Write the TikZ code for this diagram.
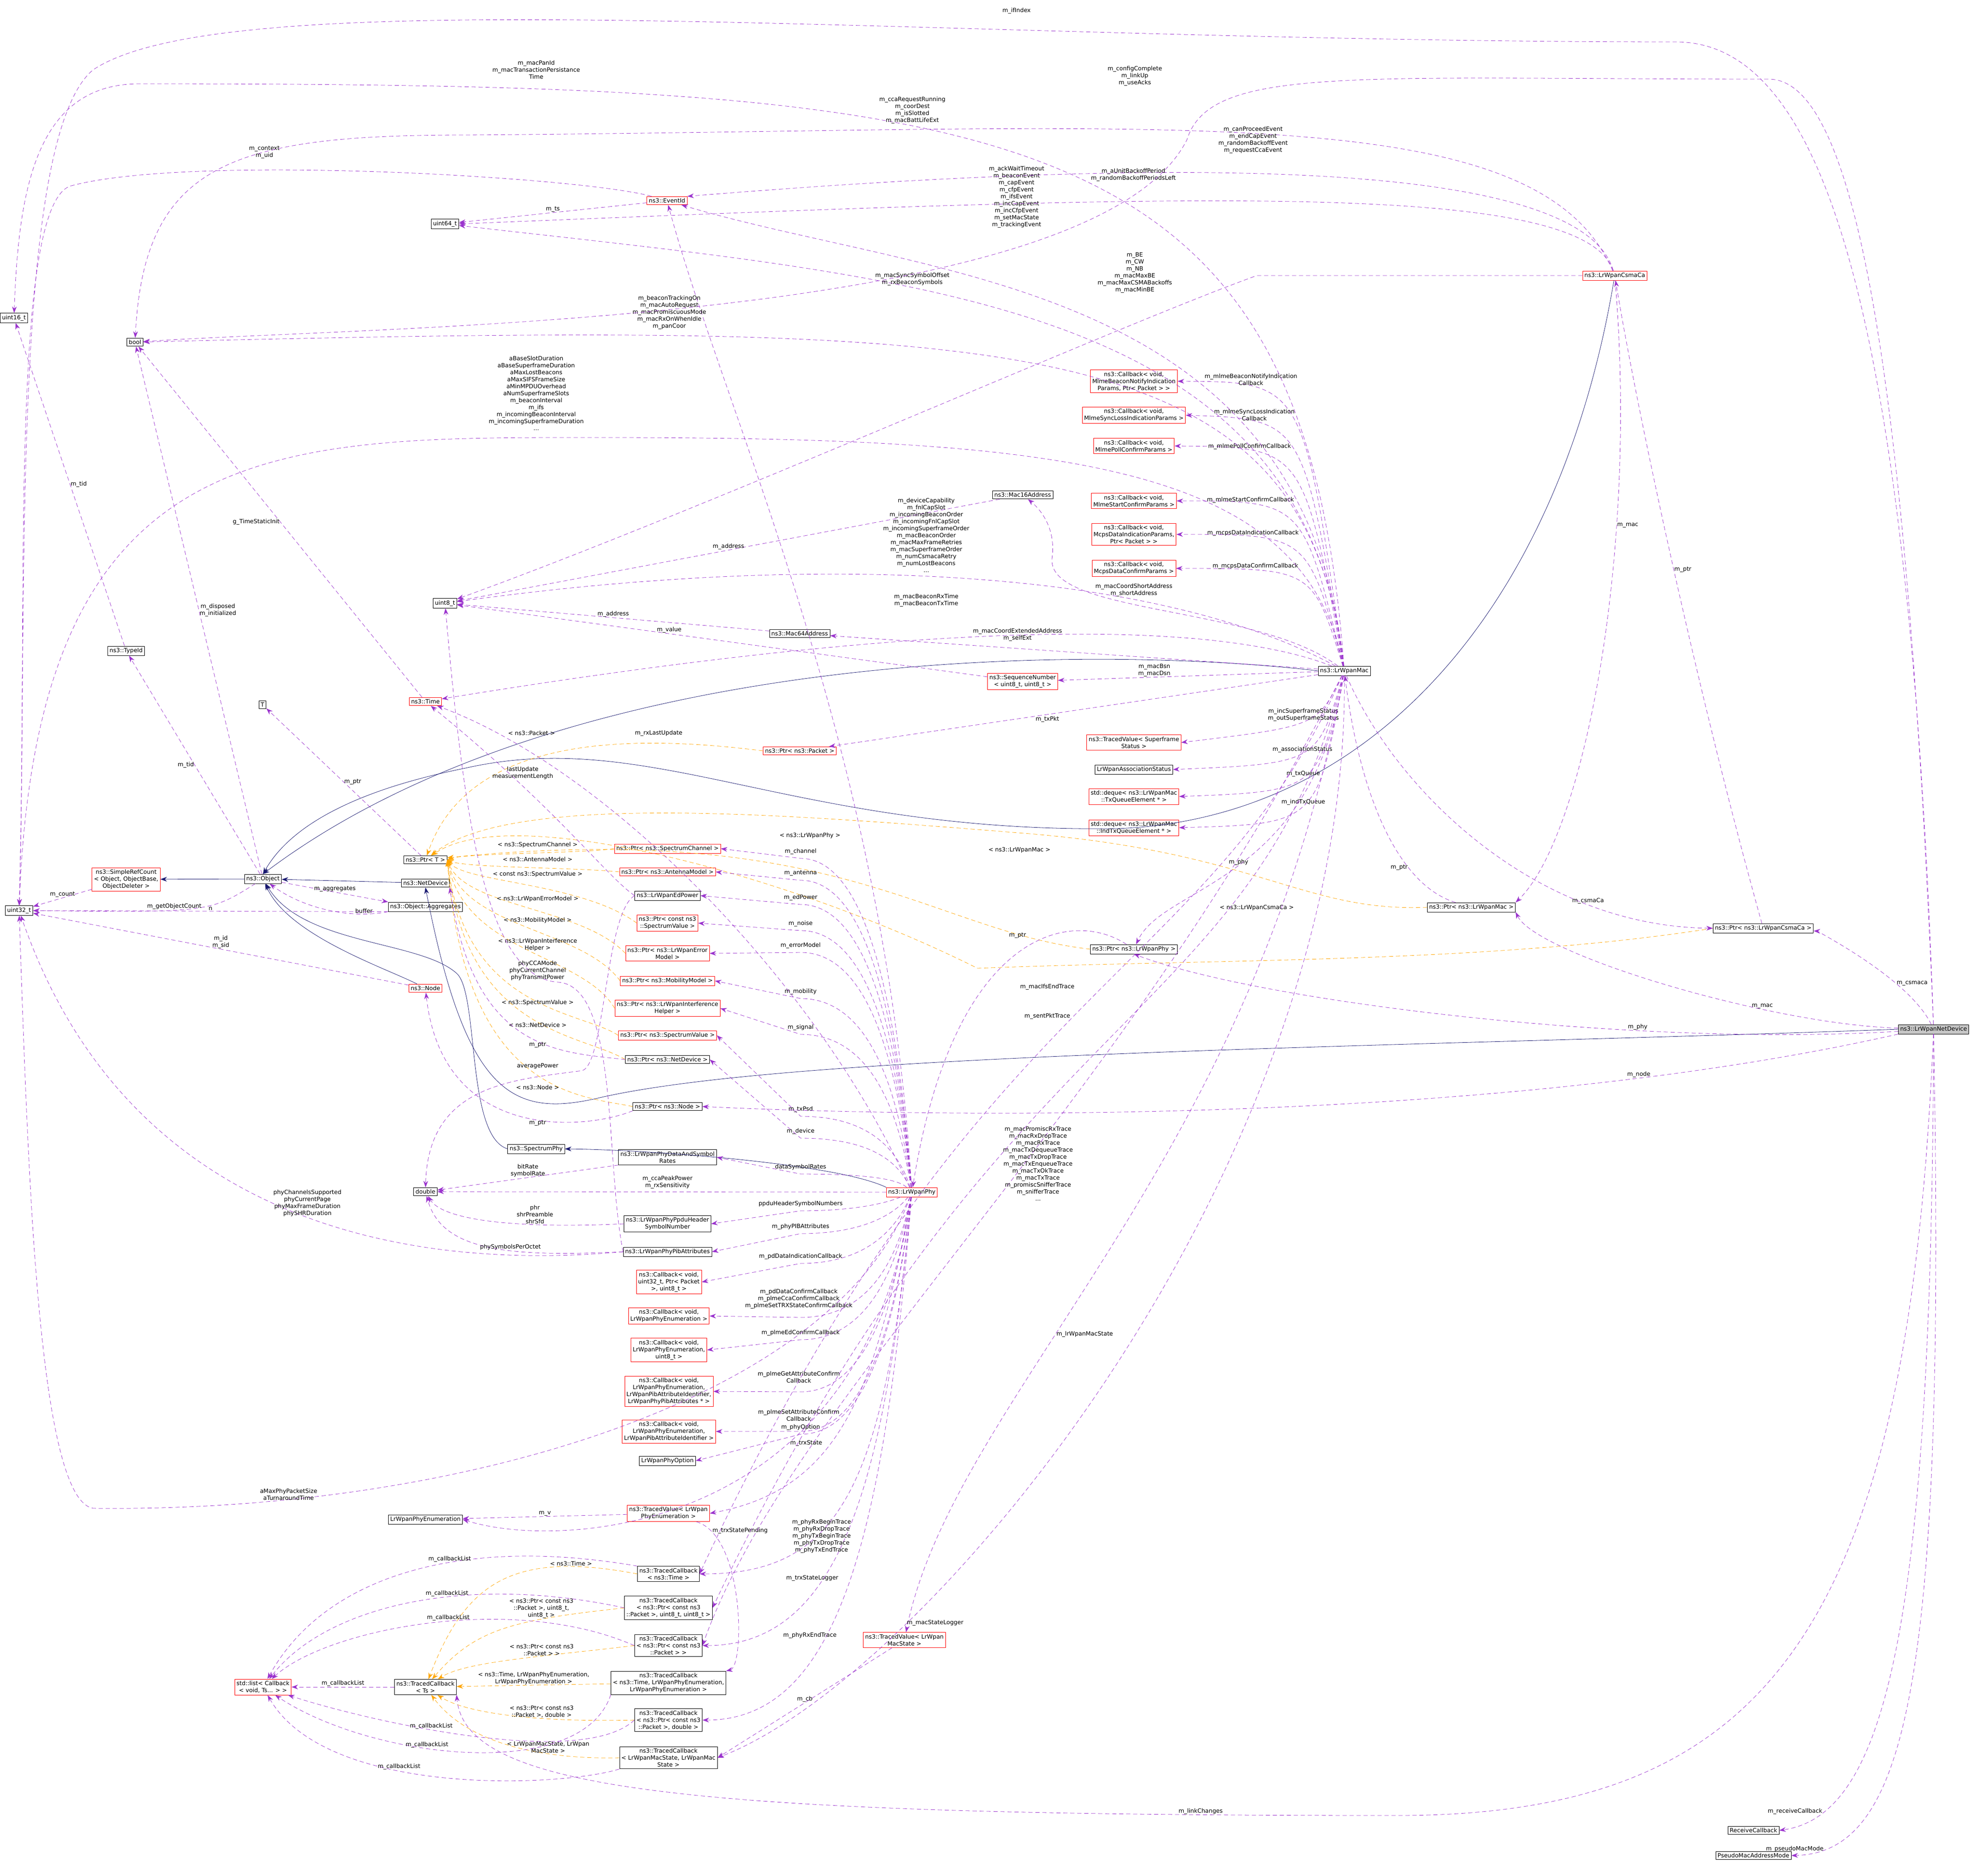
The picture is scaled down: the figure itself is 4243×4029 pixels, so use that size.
\documentclass[tikz,border=0pt]{standalone}
\usepackage{fontspec}
\setmainfont{DejaVu Sans}
\usetikzlibrary{arrows.meta}
\definecolor{dpurple}{HTML}{9A32CD}
\definecolor{dnavy}{HTML}{191970}
\definecolor{dorange}{HTML}{FFA500}
\tikzset{
 box/.style={draw=black,thick,fill=white,rectangle,inner sep=4pt,align=center,font=\fontsize{12.5}{15}\selectfont},
 rbox/.style={box,draw=red},
 gbox/.style={box,fill=gray!45},
 dsh/.style={dash pattern=on 9pt off 6pt},
 mem/.style={draw=dpurple,dsh,thick,-{Stealth[length=14pt,width=10pt]}},
 inh/.style={draw=dnavy,thick,-{Stealth[length=14pt,width=10pt]}},
 tpl/.style={draw=dorange,dsh,thick,-{Stealth[length=14pt,width=10pt]}},
 lb/.style={font=\fontsize{12.5}{15}\selectfont,align=center,inner sep=1pt,text=black}
}
\begin{document}
\begin{tikzpicture}[x=1pt,y=-1pt]
\useasboundingbox (0,0) rectangle (4243,4029);
% ---------- nodes ----------
\node[box] (u16) at (30,683) {uint16\_t};
\node[box] (bool) at (290,735) {bool};
\node[box] (u64) at (956,481) {uint64\_t};
\node[rbox] (ev) at (1433,431) {ns3::EventId};
\node[box] (u8) at (956,1296) {uint8\_t};
\node[box] (tid) at (271,1398) {ns3::TypeId};
\node[box] (T) at (564,1514) {T};
\node[rbox] (time) at (914,1507) {ns3::Time};
\node[box] (ptrT) at (914,1847) {ns3::Ptr< T >};
\node[box] (obj) at (565,1888) {ns3::Object};
\node[rbox] (src) at (271,1889) {ns3::SimpleRefCount\\< Object, ObjectBase,\\ ObjectDeleter >};
\node[box] (u32) at (41,1956) {uint32\_t};
\node[box] (nd) at (914,1897) {ns3::NetDevice};
\node[box] (agg) at (914,1948) {ns3::Object::Aggregates};
\node[rbox] (node) at (914,2123) {ns3::Node};
\node[box] (sphy) at (1152,2468) {ns3::SpectrumPhy};
\node[box] (dbl) at (914,2560) {double};
\node[rbox] (pSC) at (1434,1823) {ns3::Ptr< ns3::SpectrumChannel >};
\node[rbox] (pAM) at (1434,1873) {ns3::Ptr< ns3::AntennaModel >};
\node[box] (edp) at (1434,1924) {ns3::LrWpanEdPower};
\node[rbox] (pCSV) at (1434,1983) {ns3::Ptr< const ns3\\::SpectrumValue >};
\node[rbox] (pEM) at (1434,2048) {ns3::Ptr< ns3::LrWpanError\\Model >};
\node[rbox] (pMM) at (1434,2107) {ns3::Ptr< ns3::MobilityModel >};
\node[rbox] (pIH) at (1434,2166) {ns3::Ptr< ns3::LrWpanInterference\\Helper >};
\node[rbox] (pSV) at (1434,2224) {ns3::Ptr< ns3::SpectrumValue >};
\node[box] (pND) at (1434,2276) {ns3::Ptr< ns3::NetDevice >};
\node[box] (pNode) at (1434,2377) {ns3::Ptr< ns3::Node >};
\node[box] (dsr) at (1434,2486) {ns3::LrWpanPhyDataAndSymbol\\Rates};
\node[box] (ppdu) at (1434,2629) {ns3::LrWpanPhyPpduHeader\\SymbolNumber};
\node[box] (pib) at (1434,2689) {ns3::LrWpanPhyPibAttributes};
\node[rbox] (cb1) at (1437,2754) {ns3::Callback< void,\\uint32\_t, Ptr< Packet\\ >, uint8\_t >};
\node[rbox] (cb2) at (1437,2827) {ns3::Callback< void,\\LrWpanPhyEnumeration >};
\node[rbox] (cb3) at (1437,2900) {ns3::Callback< void,\\LrWpanPhyEnumeration,\\uint8\_t >};
\node[rbox] (cb4) at (1437,2989) {ns3::Callback< void,\\LrWpanPhyEnumeration,\\LrWpanPibAttributeIdentifier,\\LrWpanPhyPibAttributes * >};
\node[rbox] (cb5) at (1437,3075) {ns3::Callback< void,\\LrWpanPhyEnumeration,\\LrWpanPibAttributeIdentifier >};
\node[box] (popt) at (1434,3138) {LrWpanPhyOption};
\node[rbox] (tvpe) at (1436,3251) {ns3::TracedValue< LrWpan\\PhyEnumeration >};
\node[box] (pe) at (914,3264) {LrWpanPhyEnumeration};
\node[box] (tcT) at (1436,3381) {ns3::TracedCallback\\< ns3::Time >};
\node[box] (tcP8) at (1436,3454) {ns3::TracedCallback\\< ns3::Ptr< const ns3\\::Packet >, uint8\_t, uint8\_t >};
\node[box] (tcP) at (1436,3535) {ns3::TracedCallback\\< ns3::Ptr< const ns3\\::Packet > >};
\node[box] (tcTE) at (1436,3615) {ns3::TracedCallback\\< ns3::Time, LrWpanPhyEnumeration,\\LrWpanPhyEnumeration >};
\node[box] (tcPD) at (1436,3695) {ns3::TracedCallback\\< ns3::Ptr< const ns3\\::Packet >, double >};
\node[box] (tcMS) at (1436,3776) {ns3::TracedCallback\\< LrWpanMacState, LrWpanMac\\State >};
\node[rbox] (lst) at (565,3624) {std::list< Callback\\< void, Ts... > >};
\node[box] (tcTs) at (914,3624) {ns3::TracedCallback\\< Ts >};
\node[rbox] (phy) at (1959,2561) {ns3::LrWpanPhy};
\node[box] (mac) at (2888,1441) {ns3::LrWpanMac};
\node[rbox] (cbm1) at (2436,819) {ns3::Callback< void,\\MlmeBeaconNotifyIndication\\Params, Ptr< Packet > >};
\node[rbox] (cbm2) at (2436,892) {ns3::Callback< void,\\MlmeSyncLossIndicationParams >};
\node[rbox] (cbm3) at (2436,958) {ns3::Callback< void,\\MlmePollConfirmParams >};
\node[rbox] (cbm4) at (2436,1076) {ns3::Callback< void,\\MlmeStartConfirmParams >};
\node[rbox] (cbm5) at (2436,1148) {ns3::Callback< void,\\McpsDataIndicationParams,\\Ptr< Packet > >};
\node[rbox] (cbm6) at (2436,1221) {ns3::Callback< void,\\McpsDataConfirmParams >};
\node[box] (m16) at (2197,1063) {ns3::Mac16Address};
\node[box] (m64) at (1718,1361) {ns3::Mac64Address};
\node[rbox] (seq) at (2197,1464) {ns3::SequenceNumber\\< uint8\_t, uint8\_t >};
\node[rbox] (pPk) at (1718,1613) {ns3::Ptr< ns3::Packet >};
\node[rbox] (tvsf) at (2436,1595) {ns3::TracedValue< Superframe\\Status >};
\node[box] (asst) at (2436,1653) {LrWpanAssociationStatus};
\node[rbox] (dq1) at (2436,1711) {std::deque< ns3::LrWpanMac\\::TxQueueElement * >};
\node[rbox] (dq2) at (2436,1778) {std::deque< ns3::LrWpanMac\\::IndTxQueueElement * >};
\node[box] (pPhy) at (2436,2039) {ns3::Ptr< ns3::LrWpanPhy >};
\node[box] (pMac) at (3161,1949) {ns3::Ptr< ns3::LrWpanMac >};
\node[rbox] (csma) at (3469,592) {ns3::LrWpanCsmaCa};
\node[box] (pCsma) at (3788,1994) {ns3::Ptr< ns3::LrWpanCsmaCa >};
\node[gbox] (ndev) at (4154,2211) {ns3::LrWpanNetDevice};
\node[rbox] (tvms) at (1943,3523) {ns3::TracedValue< LrWpan\\MacState >};
\node[box] (rcb) at (3767,3932) {ReceiveCallback};
\node[box] (pmam) at (3767,3986) {PseudoMacAddressMode};
% ---------- inheritance ----------
\draw[inh] (obj) -- (src);
\draw[inh] (nd) -- (obj);
\draw[inh] (node) .. controls (830,2080) and (620,2010) .. (obj);
\draw[inh] (sphy.west) .. controls (1000,2440) and (1030,2130) .. (980,2090) .. controls (900,2020) and (650,2030) .. (obj);
\draw[inh] (mac.west) .. controls (2300,1380) and (1200,1400) .. (obj.north);
\draw[inh] (csma) .. controls (3350,1300) and (2950,1760) .. (2400,1780) .. controls (1700,1790) and (1400,1560) .. (1000,1650) .. controls (750,1700) and (620,1780) .. (obj.north);
\draw[inh] (phy.north west) .. controls (1800,2500) and (1400,2470) .. (sphy.east);
\draw[inh] (ndev.west) .. controls (3000,2250) and (1700,2260) .. (1280,2360) .. controls (1100,2400) and (1000,2350) .. (nd.south);
% ---------- template ----------
\foreach \s/\y/\l in {pSC/1815/{< ns3::SpectrumChannel >}, pAM/1846/{< ns3::AntennaModel >}, pCSV/1878/{< const ns3::SpectrumValue >}, pEM/1931/{< ns3::LrWpanErrorModel >}, pMM/1977/{< ns3::MobilityModel >}, pIH/2030/{< ns3::LrWpanInterference\\Helper >}, pSV/2154/{< ns3::SpectrumValue >}, pND/2202/{< ns3::NetDevice >}, pNode/2336/{< ns3::Node >}}
 {\draw[tpl] (\s.west) .. controls (1250,\y+18) and (1000,\y+18) .. (ptrT.east);
  \node[lb] at (1155,\y) {\l};}
\draw[tpl] (pPk.west) .. controls (1300,1570) and (1000,1600) .. (ptrT);
\node[lb] at (1142,1575) {< ns3::Packet >};
\draw[tpl] (pPhy.west) .. controls (2000,2000) and (1800,1760) .. (ptrT);
\node[lb] at (1740,1795) {< ns3::LrWpanPhy >};
\draw[tpl] (pMac.west) .. controls (2800,1960) and (2700,1830) .. (2200,1790) .. controls (1700,1750) and (1100,1700) .. (ptrT);
\node[lb] at (2190,1826) {< ns3::LrWpanMac >};
\draw[tpl] (pCsma.west) .. controls (3200,2070) and (2600,2060) .. (2100,2080) .. controls (1700,1880) and (1100,1720) .. (ptrT);
\node[lb] at (2700,1950) {< ns3::LrWpanCsmaCa >};
\draw[tpl] (tcT.west) .. controls (1100,3330) and (1000,3400) .. node[lb,above,pos=0.2]{< ns3::Time >} (tcTs);
\draw[tpl] (tcP8.west) .. controls (1100,3480) and (1020,3500) .. node[lb,above,pos=0.3]{< ns3::Ptr< const ns3\\::Packet >, uint8\_t,\\uint8\_t >} (tcTs);
\draw[tpl] (tcP.west) .. controls (1150,3560) and (1000,3570) .. node[lb,above,pos=0.35]{< ns3::Ptr< const ns3\\::Packet > >} (tcTs);
\draw[tpl] (tcTE) -- node[lb,above]{< ns3::Time, LrWpanPhyEnumeration,\\LrWpanPhyEnumeration >} (tcTs);
\draw[tpl] (tcPD.west) .. controls (1150,3700) and (1000,3680) .. node[lb,above,pos=0.35]{< ns3::Ptr< const ns3\\::Packet >, double >} (tcTs);
\draw[tpl] (tcMS.west) .. controls (1150,3780) and (1000,3740) .. node[lb,above,pos=0.3]{< LrWpanMacState, LrWpan\\MacState >} (tcTs);
% ---------- members: core ----------
\draw[mem] (obj) -- node[lb,left]{m\_tid} (tid);
\draw[mem] (obj) .. controls (450,1960) .. node[lb,above,pos=0.6]{m\_getObjectCount} (u32);
\draw[mem] (obj) -- node[lb,right]{m\_disposed\\m\_initialized} (bool);
\draw[mem] (obj) -- node[lb,above]{m\_aggregates} (agg.north west);
\draw[mem] (agg.south west) .. controls (750,1975) and (650,1950) .. node[lb,above,pos=0.2]{buffer} (obj);
\draw[mem] (agg.south west) -- node[lb,above]{n} (u32);
\draw[mem] (src) -- node[lb,above]{m\_count} (u32);
\draw[mem] (tid) -- node[lb,right]{m\_tid} (u16);
\draw[mem] (node) -- node[lb,above]{m\_id\\m\_sid} (u32);
\draw[mem] (ptrT) -- node[lb,right]{m\_ptr} (T);
\draw[mem] (time) -- node[lb,left]{g\_TimeStaticInit} (bool);
\draw[mem] (ev) -- node[lb,above]{m\_ts} (u64);
\draw[mem] (ev) .. controls (1250,380) and (400,330) .. (150,400) .. controls (20,450) and (60,1300) .. (u32);
\node[lb] at (568,327) {m\_context\\m\_uid};
\draw[mem] (m16) -- node[lb,above]{m\_address} (u8);
\draw[mem] (m64) -- node[lb,above]{m\_address} (u8);
\draw[mem] (seq) -- node[lb,above,pos=0.6]{m\_value} (u8);
\draw[mem] (pND.west) .. controls (1200,2260) and (1020,2260) .. (nd.south east);
\node[lb] at (1155,2245) {m\_ptr};
\draw[mem] (pNode.south west) .. controls (1250,2430) and (950,2450) .. (node);
\node[lb] at (1155,2413) {m\_ptr};
\draw[mem] (edp.west) .. controls (1300,1960) and (1300,2290) .. (1250,2300) .. controls (1100,2320) and (920,2330) .. (dbl);
\node[lb] at (1155,2290) {averagePower};
\draw[mem] (edp.west) .. controls (1300,1880) and (1200,1740) .. (time);
\node[lb] at (1123,1661) {lastUpdate\\measurementLength};
\draw[mem] (pib.west) .. controls (1000,2720) and (300,2700) .. node[lb,above,pos=0.5]{phyChannelsSupported\\phyCurrentPage\\phyMaxFrameDuration\\phySHRDuration} (u32);
\draw[mem] (pib.west) .. controls (1100,2700) and (950,2690) .. node[lb,above,pos=0.4]{phySymbolsPerOctet} (dbl);
\draw[mem] (pib.west) .. controls (1300,2500) and (1330,2120) .. (1200,2110) .. controls (1050,2100) and (1000,1800) .. (u8);
\node[lb] at (1155,2085) {phyCCAMode\\phyCurrentChannel\\phyTransmitPower};
\draw[mem] (ppdu.west) .. controls (1100,2640) and (950,2620) .. node[lb,above,pos=0.3]{phr\\shrPreamble\\shrSfd} (dbl);
\draw[mem] (dsr.south west) -- node[lb,above]{bitRate\\symbolRate} (dbl);
\draw[mem] (tvpe) -- node[lb,above]{m\_v} (pe);
\draw[mem] (tcT.north west) .. controls (1000,3300) and (700,3380) .. node[lb,above,pos=0.4]{m\_callbackList} (lst);
\draw[mem] (tcP8.west) .. controls (1000,3380) and (700,3450) .. node[lb,above,pos=0.4]{m\_callbackList} (lst);
\draw[mem] (tcP.west) .. controls (1100,3420) and (700,3500) .. node[lb,above,pos=0.45]{m\_callbackList} (lst);
\draw[mem] (tcTs) -- node[lb,above]{m\_callbackList} (lst);
\draw[mem] (tcPD.west) .. controls (1250,3800) and (800,3700) .. node[lb,above,pos=0.6]{m\_callbackList} (lst);
\draw[mem] (tcTE.south west) .. controls (1250,3830) and (800,3780) .. node[lb,above,pos=0.6]{m\_callbackList} (lst);
\draw[mem] (tcMS.south west) .. controls (1200,3840) and (700,3860) .. node[lb,above,pos=0.6]{m\_callbackList} (lst);
% ---------- members: LrWpanPhy ----------
\foreach \t/\y/\l in {pSC/1829/m\_channel, pAM/1876/m\_antenna, edp/1928/m\_edPower, pCSV/1984/m\_noise, pEM/2031/m\_errorModel, pMM/2130/m\_mobility, pIH/2207/m\_signal, pSV/2383/m\_txPsd, pND/2430/m\_device, dsr/2507/dataSymbolRates, ppdu/2586/ppduHeaderSymbolNumbers, pib/2635/m\_phyPIBAttributes, cb1/2699/m\_pdDataIndicationCallback, cb3/2863/m\_plmeEdConfirmCallback, popt/3066/m\_phyOption}
  {\draw[mem] (phy) .. controls (1930,{(\y+2561)/2}) and (1870,\y+15) .. (1720,\y+15) -- (\t.east);
   \node[lb] at (1720,\y) {\l};}
\draw[mem] (phy) .. controls (1930,2700) and (1870,2830) .. (1720,2830) -- (cb2.east);
\node[lb] at (1716,2790) {m\_pdDataConfirmCallback\\m\_plmeCcaConfirmCallback\\m\_plmeSetTRXStateConfirmCallback};
\draw[mem] (phy) .. controls (1930,2750) and (1870,2990) .. (1720,2990) -- (cb4.east);
\node[lb] at (1716,2958) {m\_plmeGetAttributeConfirm\\Callback};
\draw[mem] (phy) .. controls (1930,2800) and (1870,3075) .. (1720,3075) -- (cb5.east);
\node[lb] at (1716,3040) {m\_plmeSetAttributeConfirm\\Callback};
\draw[mem] (phy) -- (dbl);
\node[lb] at (1434,2540) {m\_ccaPeakPower\\m\_rxSensitivity};
\draw[mem] (phy) .. controls (1750,2100) and (1300,1650) .. (time);
\node[lb] at (1415,1575) {m\_rxLastUpdate};
\draw[mem] (phy) .. controls (1900,1600) and (1560,900) .. (ev);
\draw[mem] (phy) .. controls (1880,3000) and (1800,3200) .. (tvpe.east);
\node[lb] at (1732,3100) {m\_trxState};
\draw[mem] (phy) .. controls (1850,3300) and (1200,3330) .. (pe.east);
\node[lb] at (1590,3288) {m\_trxStatePending};
\draw[mem] (phy) .. controls (1800,3000) and (1000,3250) .. (200,3240) .. controls (80,3220) and (60,2500) .. (u32);
\node[lb] at (620,3210) {aMaxPhyPacketSize\\aTurnaroundTime};
\draw[mem] (phy) .. controls (1900,3200) and (1800,3381) .. (tcT.east);
\node[lb] at (1745,3390) {m\_trxStateLogger};
\draw[mem] (phy) .. controls (1900,3200) and (1800,3535) .. (tcP.east);
\node[lb] at (1765,3300) {m\_phyRxBeginTrace\\m\_phyRxDropTrace\\m\_phyTxBeginTrace\\m\_phyTxDropTrace\\m\_phyTxEndTrace};
\draw[mem] (phy) .. controls (1900,3300) and (1800,3695) .. (tcPD.east);
\node[lb] at (1740,3513) {m\_phyRxEndTrace};
\draw[mem] (tvpe) .. controls (1600,3300) and (1600,3580) .. (tcTE.north east);
% ---------- members: LrWpanMac ----------
\draw[mem] (mac) .. controls (2800,820) .. node[lb,above,pos=0.75]{m\_mlmeBeaconNotifyIndication\\Callback} (cbm1.east);
\draw[mem] (mac) .. controls (2800,900) .. node[lb,above,pos=0.75]{m\_mlmeSyncLossIndication\\Callback} (cbm2.east);
\draw[mem] (mac) .. controls (2800,960) .. node[lb,above,pos=0.75]{m\_mlmePollConfirmCallback} (cbm3.east);
\draw[mem] (mac) .. controls (2800,1076) .. node[lb,above,pos=0.75]{m\_mlmeStartConfirmCallback} (cbm4.east);
\draw[mem] (mac) .. controls (2810,1148) .. node[lb,above,pos=0.75]{m\_mcpsDataIndicationCallback} (cbm5.east);
\draw[mem] (mac) .. controls (2820,1221) .. node[lb,above,pos=0.75]{m\_mcpsDataConfirmCallback} (cbm6.east);
\draw[mem] (mac) .. controls (2700,1300) and (2250,1320) .. (2260,1200) .. controls (2270,1130) and (2230,1090) .. (m16);
\node[lb] at (2436,1268) {m\_macCoordShortAddress\\m\_shortAddress};
\draw[mem] (mac) -- (m64);
\node[lb] at (2186,1364) {m\_macCoordExtendedAddress\\m\_selfExt};
\draw[mem] (mac) -- (seq);
\node[lb] at (2480,1440) {m\_macBsn\\m\_macDsn};
\draw[mem] (mac) -- (pPk);
\node[lb] at (2250,1545) {m\_txPkt};
\draw[mem] (mac) .. controls (2830,1560) .. node[lb,above,pos=0.5]{m\_incSuperframeStatus\\m\_outSuperframeStatus} (tvsf.east);
\draw[mem] (mac) .. controls (2830,1640) .. node[lb,above,pos=0.5]{m\_associationStatus} (asst.east);
\draw[mem] (mac) .. controls (2830,1700) .. node[lb,above,pos=0.5]{m\_txQueue} (dq1.east);
\draw[mem] (mac) .. controls (2830,1770) .. node[lb,above,pos=0.5]{m\_indTxQueue} (dq2.east);
\draw[mem] (mac) .. controls (2820,1900) and (2500,1900) .. node[lb,above,pos=0.5]{m\_phy} (pPhy);
\draw[mem] (mac) .. controls (3000,1700) and (3300,1990) .. node[lb,above,pos=0.75]{m\_csmaCa} (pCsma.west);
\draw[mem] (pMac) .. controls (3000,1900) and (2920,1700) .. node[lb,left,pos=0.3]{m\_ptr} (mac);
\draw[mem] (mac) .. controls (2800,650) and (2000,600) .. (u64);
\node[lb] at (1960,600) {m\_macSyncSymbolOffset\\m\_rxBeaconSymbols};
\draw[mem] (mac) .. controls (2800,700) and (2200,690) .. (bool);
\node[lb] at (1438,671) {m\_beaconTrackingOn\\m\_macAutoRequest\\m\_macPromiscuousMode\\m\_macRxOnWhenIdle\\m\_panCoor};
\draw[mem] (mac) .. controls (2800,1000) and (2300,940) .. (1300,940) .. controls (600,940) and (80,920) .. (u32);
\node[lb] at (1152,845) {aBaseSlotDuration\\aBaseSuperframeDuration\\aMaxLostBeacons\\aMaxSIFSFrameSize\\aMinMPDUOverhead\\aNumSuperframeSlots\\m\_beaconInterval\\m\_ifs\\m\_incomingBeaconInterval\\m\_incomingSuperframeDuration\\...};
\draw[mem] (mac) .. controls (2500,1230) and (1800,1180) .. (u8);
\node[lb] at (1990,1150) {m\_deviceCapability\\m\_fnlCapSlot\\m\_incomingBeaconOrder\\m\_incomingFnlCapSlot\\m\_incomingSuperframeOrder\\m\_macBeaconOrder\\m\_macMaxFrameRetries\\m\_macSuperframeOrder\\m\_numCsmacaRetry\\m\_numLostBeacons\\...};
\draw[mem] (mac) .. controls (2800,250) and (2200,180) .. (300,180) .. controls (80,180) and (40,400) .. (u16);
\node[lb] at (1152,150) {m\_macPanId\\m\_macTransactionPersistance\\Time};
\draw[mem] (mac) .. controls (2800,600) and (2000,600) .. (ev);
\node[lb] at (2184,423) {m\_ackWaitTimeout\\m\_beaconEvent\\m\_capEvent\\m\_cfpEvent\\m\_ifsEvent\\m\_incCapEvent\\m\_incCfpEvent\\m\_setMacState\\m\_trackingEvent};
\draw[mem] (mac) .. controls (2600,1330) and (2000,1330) .. (time);
\node[lb] at (1990,1290) {m\_macBeaconRxTime\\m\_macBeaconTxTime};
\draw[mem] (mac) .. controls (2700,2500) and (2050,3000) .. node[lb,right,pos=0.6]{m\_lrWpanMacState} (tvms);
\draw[mem] (mac) .. controls (2900,2500) and (2000,3600) .. node[lb,right,pos=0.75]{m\_macStateLogger} (tcMS.east);
\draw[mem] (mac) .. controls (2400,2400) and (1700,3000) .. (tcP.east);
\node[lb] at (2230,2500) {m\_macPromiscRxTrace\\m\_macRxDropTrace\\m\_macRxTrace\\m\_macTxDequeueTrace\\m\_macTxDropTrace\\m\_macTxEnqueueTrace\\m\_macTxOkTrace\\m\_macTxTrace\\m\_promiscSnifferTrace\\m\_snifferTrace\\...};
\draw[mem] (mac) .. controls (2600,2100) and (2100,2100) .. (tcT.east);
\node[lb] at (2250,2120) {m\_macIfsEndTrace};
\draw[mem] (mac) .. controls (2700,2200) and (2150,2150) .. (tcP8.east);
\node[lb] at (2250,2183) {m\_sentPktTrace};
\draw[mem] (tvms) -- node[lb,above]{m\_cb} (tcMS.east);
% ---------- members: CsmaCa ----------
\draw[mem] (csma) .. controls (3300,200) and (2500,280) .. (1000,290) .. controls (500,290) and (310,350) .. (bool);
\node[lb] at (1960,237) {m\_ccaRequestRunning\\m\_coorDest\\m\_isSlotted\\m\_macBattLifeExt};
\draw[mem] (csma) .. controls (3400,350) and (2600,330) .. (ev.north east);
\node[lb] at (2692,301) {m\_canProceedEvent\\m\_endCapEvent\\m\_randomBackoffEvent\\m\_requestCcaEvent};
\draw[mem] (csma) .. controls (3400,380) and (2500,420) .. (u64.east);
\node[lb] at (2435,376) {m\_aUnitBackoffPeriod\\m\_randomBackoffPeriodsLeft};
\draw[mem] (csma.west) -- (2700,592) .. controls (2400,700) and (1500,1100) .. (u8);
\node[lb] at (2438,586) {m\_BE\\m\_CW\\m\_NB\\m\_macMaxBE\\m\_macMaxCSMABackoffs\\m\_macMinBE};
\draw[mem] (csma) .. controls (3520,1200) and (3400,1800) .. node[lb,right,pos=0.3]{m\_mac} (pMac.north east);
\draw[mem] (pCsma) .. controls (3650,1500) and (3520,900) .. node[lb,right,pos=0.5]{m\_ptr} (csma);
\draw[mem] (pPhy) .. controls (2300,1950) and (2050,2000) .. (phy);
\node[lb] at (2186,2010) {m\_ptr};
% ---------- members: NetDevice ----------
\draw[mem] (ndev) .. controls (4100,600) and (3900,90) .. (3600,90) .. controls (2000,90) and (500,-50) .. (200,150) .. controls (20,300) and (60,1300) .. (u32);
\node[lb] at (2184,23) {m\_ifIndex};
\draw[mem] (ndev) .. controls (4100,900) and (4000,170) .. (3800,170) .. controls (2900,170) and (2600,140) .. (2550,300) .. controls (2350,700) and (800,700) .. (bool);
\node[lb] at (2438,163) {m\_configComplete\\m\_linkUp\\m\_useAcks};
\draw[mem] (ndev) .. controls (4100,2100) and (3900,2000) .. node[lb,right,pos=0.3]{m\_csmaca} (pCsma);
\draw[mem] (ndev) .. controls (3800,2200) and (3300,2050) .. node[lb,above,pos=0.3]{m\_mac} (pMac.south east);
\draw[mem] (ndev) .. controls (3500,2250) and (2700,2150) .. node[lb,above,pos=0.3]{m\_phy} (pPhy.south);
\draw[mem] (ndev.south west) .. controls (3200,2420) and (2000,2400) .. node[lb,above,pos=0.2]{m\_node} (pNode.east);
\draw[mem] (ndev) .. controls (4100,3500) and (3800,3900) .. (3000,3900) .. controls (1500,3900) and (1000,3850) .. node[lb,above,pos=0.1]{m\_linkChanges} (tcTs.south east);
\draw[mem] (ndev) .. controls (4150,3500) and (4050,3900) .. node[lb,left,pos=0.85]{m\_receiveCallback} (rcb.east);
\draw[mem] (ndev) .. controls (4180,3600) and (4100,3980) .. node[lb,left,pos=0.9]{m\_pseudoMacMode} (pmam.east);
\end{tikzpicture}
\end{document}
